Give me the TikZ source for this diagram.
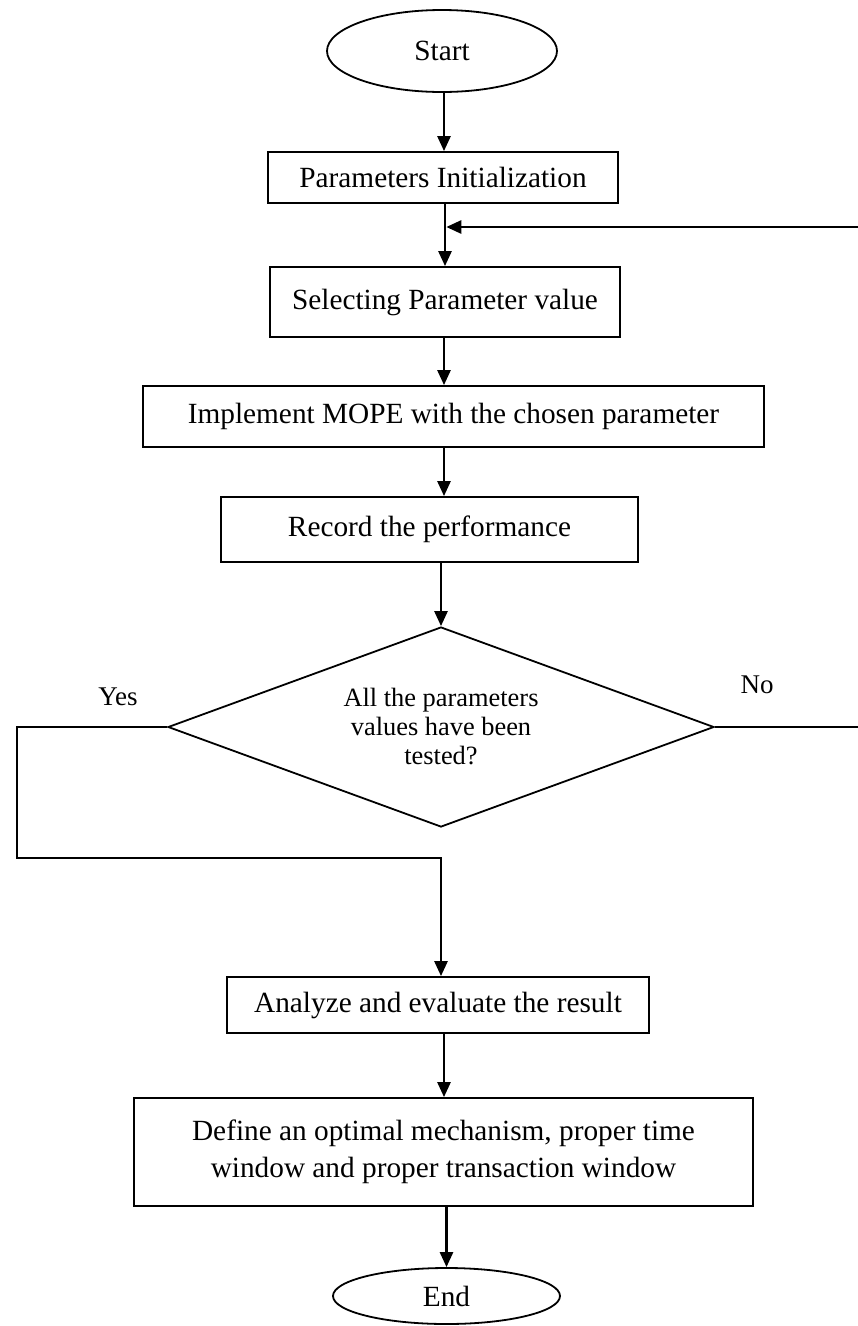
\documentclass[tikz,border=0pt]{standalone}
\usepackage{fontspec}
\setmainfont{Liberation Serif}
\usetikzlibrary{shapes.geometric,arrows.meta}
\begin{document}
\begin{tikzpicture}[x=1pt,y=-1pt,
  box/.style={draw,line width=1.8pt,rectangle,inner sep=0pt,align=center,
    font=\fontsize{29.3}{37}\selectfont},
  term/.style={draw,line width=1.8pt,ellipse,inner sep=0pt,
    font=\fontsize{29.3}{37}\selectfont},
  decision/.style={draw,line width=1.8pt,diamond,aspect=2.73,inner sep=0pt,align=center,
    font=\fontsize{26.4}{29}\selectfont},
  arr/.style={line width=2.6pt,-{Triangle[length=15pt,width=13pt]}},
  link/.style={line width=2.6pt},
  lbl/.style={font=\fontsize{27}{30}\selectfont}]
\useasboundingbox (0,0) rectangle (858,1326);

% flow nodes
\node[term,minimum width=230pt,minimum height=82pt] (start) at (442,51) {Start};
\node[box,minimum width=350pt,minimum height=51pt] (pinit) at (443,177.5) {Parameters Initialization};
\node[box,minimum width=350pt,minimum height=70pt] (select) at (445,302) {Selecting Parameter value};
\node[box,minimum width=621pt,minimum height=61pt] (impl) at (453.5,416.5) {Implement MOPE with the chosen parameter};
\node[box,minimum width=417pt,minimum height=65pt] (record) at (429.5,529.5) {Record the performance};
\node[decision,minimum width=546pt,minimum height=200pt] (dec) at (441,727) {All the parameters\\values have been\\tested?};
\node[box,minimum width=422pt,minimum height=56pt] (analyze) at (438,1005) {Analyze and evaluate the result};
\node[box,minimum width=619pt,minimum height=108pt] (define) at (443.5,1152) {Define an optimal mechanism, proper time\\window and proper transaction window};
\node[term,minimum width=227pt,minimum height=56pt] (endn) at (446.5,1296) {End};

% branch labels
\node[lbl] (yes) at (118,697) {Yes};
\node[lbl] (no) at (757,685) {No};

% guide coordinates for the loop-back and the "Yes" route
\coordinate (axis) at (444,0);
\coordinate (rt) at (858,227);
\coordinate (yl) at (17,0);
\coordinate (yb) at (0,858);

% main connectors
\draw[arr] (start.south -| axis) -- (pinit.north -| axis);
\draw[arr] (pinit.south -| select.north) -- (select.north);
\draw[arr] (select.south -| axis) -- (impl.north -| axis);
\draw[arr] (impl.south -| axis) -- (record.north -| axis);
\draw[arr] (record.south -| dec.north) -- (dec.north);
\draw[arr] (analyze.south -| axis) -- (define.north -| axis);
\draw[arr] (define.south -| endn.north) -- (endn.north);

% "Yes" route down to the analysis step
\draw[arr] (dec.west) -| (yl |- yb) -- (dec.south |- yb) -- (dec.south |- analyze.north);

% "No" route back to parameter selection
\draw[link] (dec.east) -- (dec.east -| rt);
\draw[arr,shorten >=1.3pt] (rt) -- (rt -| select.north);
\end{tikzpicture}
\end{document}
